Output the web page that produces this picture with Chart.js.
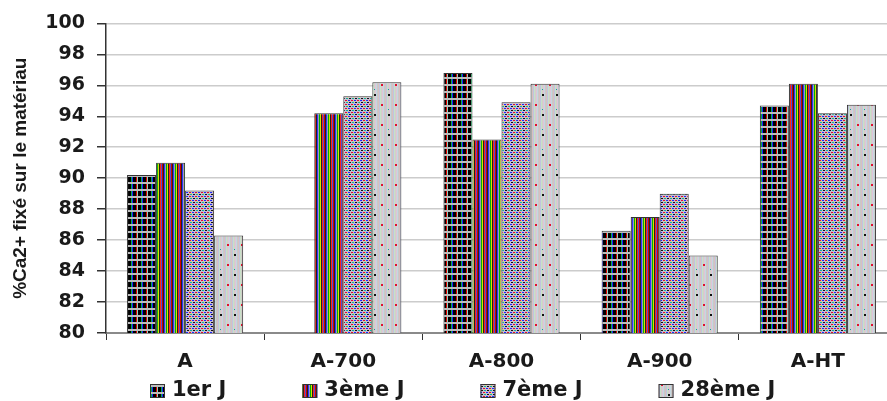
<!DOCTYPE html>
<html>
<head>
<meta charset="utf-8">
<script src="https://cdn.jsdelivr.net/npm/chart.js@4/dist/chart.umd.min.js"></script>
<style>
  html, body { margin: 0; padding: 0; background: #ffffff; overflow: hidden; }
  #wrap { width: 910px; height: 401px; position: relative; }
</style>
</head>
<body>
<div id="wrap"><canvas id="c"></canvas></div>
<script>
// ---- data ----
const categories = ['A', 'A-700', 'A-800', 'A-900', 'A-HT'];
const seriesLabels = ['1er J', '3ème J', '7ème J', '28ème J'];
const day1  = [90.2, null, 96.8, 86.6, 94.7];
const day3  = [91.0, 94.2, 92.5, 87.5, 96.1];
const day7  = [89.2, 95.3, 94.9, 89.0, 94.2];
const day28 = [86.3, 96.2, 96.1, 85.0, 94.75];
const yMin = 80, yMax = 100, yStep = 2;
const yTitle = '%Ca2+ fixé sur le matériau';

// ---- fill patterns (Excel-like textured fills) ----
function makePattern(w, h, draw) {
  const c = document.createElement('canvas');
  c.width = w; c.height = h;
  const g = c.getContext('2d');
  draw(g);
  return g.createPattern(c, 'repeat');
}
const pat1 = makePattern(10, 7, g => {
  g.fillStyle = '#000000'; g.fillRect(0, 0, 10, 7);
  g.fillStyle = '#00b050'; g.fillRect(1, 0, 1, 7);
  g.fillStyle = '#2020ff'; g.fillRect(2, 0, 1, 7);
  g.fillStyle = '#e00000'; g.fillRect(6, 0, 1, 7);
  g.fillStyle = '#90d0c0'; g.fillRect(7, 0, 1, 7);
  g.fillStyle = '#bdbdbd'; g.fillRect(0, 0, 10, 2);
});
const pat2 = makePattern(9, 1, g => {
  const cols = ['#d00000', '#202020', '#3030ff', '#a0a0b0', '#00b000', '#d8e000', '#202020', '#ff2020', '#5050d0'];
  cols.forEach((c, i) => { g.fillStyle = c; g.fillRect(i, 0, 1, 1); });
});
const pat3 = makePattern(6, 4, g => {
  g.fillStyle = '#c8bcd0'; g.fillRect(0, 0, 6, 4);
  g.fillStyle = '#1a2aff'; g.fillRect(0, 0, 2, 1);
  g.fillStyle = '#e0102a'; g.fillRect(3, 0, 2, 1);
  g.fillStyle = '#101010'; g.fillRect(1, 2, 2, 1);
  g.fillStyle = '#10b0a0'; g.fillRect(4, 2, 2, 1);
  g.fillStyle = '#e8e060'; g.fillRect(5, 1, 1, 1);
});
const pat4 = makePattern(14, 20, g => {
  const cols = ['#d8c0c0', '#c0c4e0', '#c8e0c8', '#d0d0c8', '#e0c4d8', '#c4d8e0', '#c8c8c8'];
  for (let i = 0; i < 14; i++) { g.fillStyle = cols[i % cols.length]; g.fillRect(i, 0, 1, 20); }
  g.fillStyle = '#e01030'; g.fillRect(3, 4, 2, 2);
  g.fillStyle = '#101010'; g.fillRect(10, 14, 2, 2);
  g.fillStyle = '#10a0a0'; g.fillRect(10, 9, 1, 1);
});
const fills = [pat1, pat2, pat3, pat4];
const seriesData = [day1, day3, day7, day28];

const tickFont = { family: 'DejaVu Sans', weight: 'bold', size: 19 };
const catFont = { family: 'DejaVu Sans', weight: 'bold', size: 20 };
const legendFont = 'bold 21px "DejaVu Sans"';

// custom legend drawn below the axis
const legendPlugin = {
  id: 'bottomLegend',
  afterDraw(chart) {
    const ctx = chart.ctx;
    ctx.save();
    ctx.font = legendFont;
    ctx.textBaseline = 'middle';
    ctx.textAlign = 'left';
    let x = 150;
    const yc = 391, box = 15;
    chart.data.datasets.forEach(ds => {
      ctx.fillStyle = ds.backgroundColor;
      ctx.fillRect(x, yc - 7, box, 14);
      ctx.strokeStyle = '#333333';
      ctx.lineWidth = 1;
      ctx.strokeRect(x + 0.5, yc - 6.5, box - 1, 13);
      ctx.fillStyle = '#1a1a1a';
      ctx.fillText(ds.label, x + 22, yc);
      x += 22 + ctx.measureText(ds.label).width + 76;
    });
    ctx.restore();
  }
};

new Chart(document.getElementById('c'), {
  type: 'bar',
  data: {
    labels: categories,
    datasets: seriesLabels.map((lab, i) => ({
      label: lab,
      data: seriesData[i],
      backgroundColor: fills[i],
      borderColor: '#333333',
      borderWidth: 1,
      borderSkipped: 'bottom',
      categoryPercentage: 0.734,
      barPercentage: 1.0
    }))
  },
  options: {
    responsive: true,
    maintainAspectRatio: false,
    animation: false,
    devicePixelRatio: 1,
    layout: { padding: { left: 0, right: 13, top: 18, bottom: 28 } },
    plugins: {
      legend: { display: false },
      tooltip: { enabled: false }
    },
    scales: {
      x: {
        grid: { display: true, drawOnChartArea: false, drawTicks: true, tickLength: 7, tickColor: '#333333', offset: true },
        border: { display: true, color: '#8a8a8a', width: 2 },
        ticks: { font: catFont, color: '#1a1a1a', padding: 10, maxRotation: 0 },
        afterFit(scale) { scale.height = 40; }
      },
      y: {
        min: yMin, max: yMax,
        ticks: { stepSize: yStep, font: tickFont, color: '#1a1a1a', padding: 12 },
        grid: { color: '#cccccc', lineWidth: 1.5, tickLength: 9, tickColor: '#333333' },
        border: { display: true, color: '#333333', width: 1.5 },
        title: {
          display: true, text: yTitle, color: '#1a1a1a',
          font: { family: 'Liberation Sans', weight: 'bold', size: 19 },
          padding: { top: 9, bottom: 0 }
        },
        afterFit(scale) { scale.width = 106; }
      }
    }
  },
  plugins: [legendPlugin]
});
</script>
</body>
</html>
